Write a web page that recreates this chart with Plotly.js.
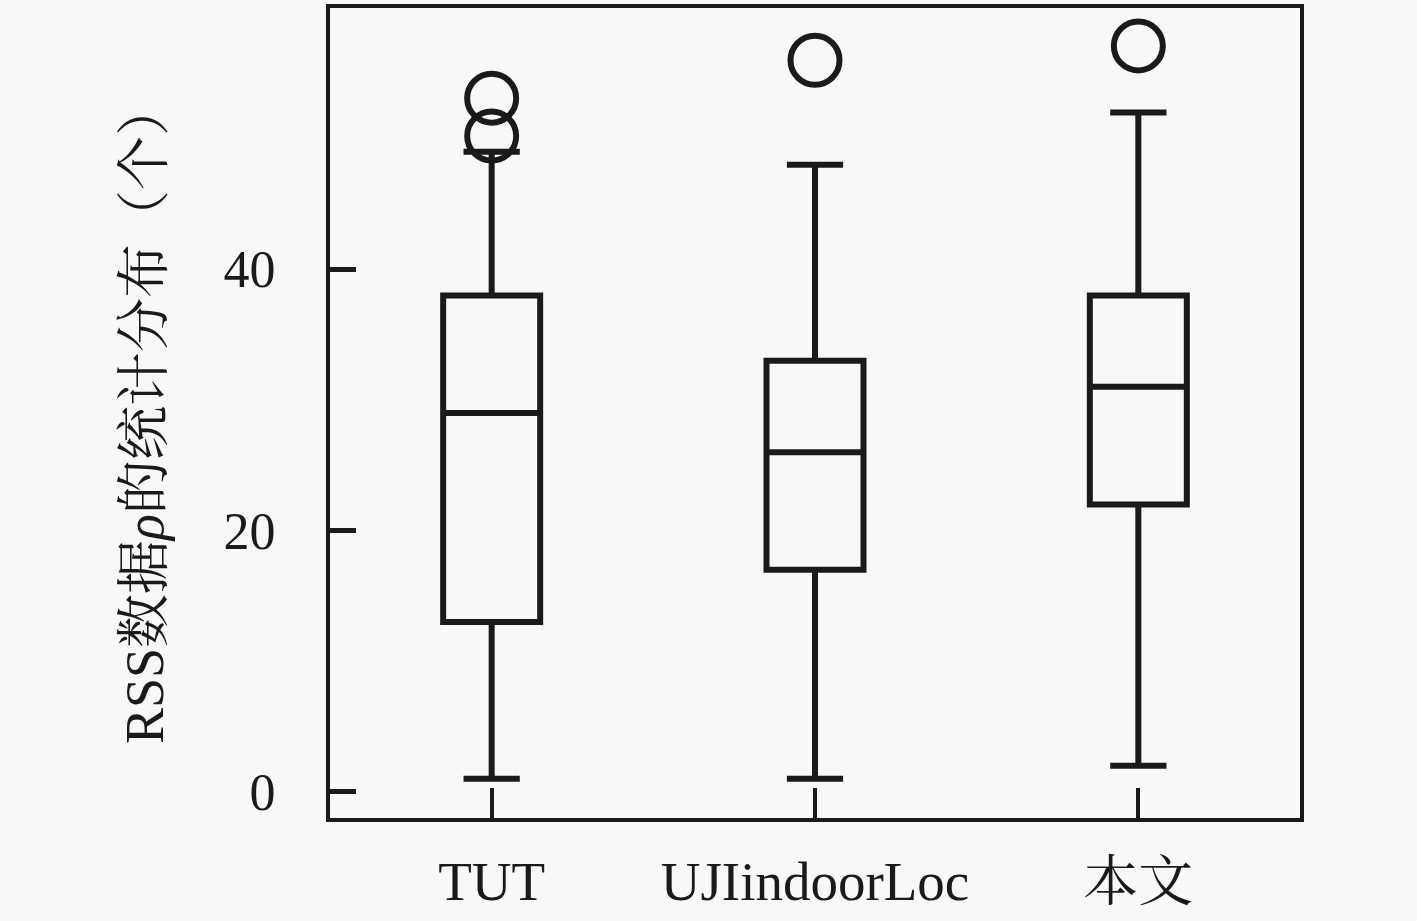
<!DOCTYPE html>
<html>
<head>
<meta charset="utf-8">
<script src="https://cdn.plot.ly/plotly-3.0.1.min.js"></script>
<style>html,body{margin:0;padding:0;background:#f8f8f8;}#chart{width:1417px;height:921px;}</style>
</head>
<body>
<div id="chart"></div>
<script>
const categories = ["TUT", "UJIindoorLoc", "本文"];
const lowerFence = [1, 1, 2];
const q1 = [13, 17, 22];
const median = [29, 26, 31];
const q3 = [38, 33, 38];
const upperFence = [49, 48, 52];
const outlierX = ["TUT", "TUT", "UJIindoorLoc", "本文"];
const outlierY = [53.1, 50.2, 56, 57.1];
const yTickVals = [0, 20, 40];

const serif = "Liberation Serif, 'Noto Serif CJK SC', 'Noto Sans CJK SC', serif";

const traces = [
  {
    type: "box",
    x: categories,
    q1: q1,
    median: median,
    q3: q3,
    lowerfence: lowerFence,
    upperfence: upperFence,
    boxpoints: false,
    width: 0.3,
    whiskerwidth: 0.58,
    fillcolor: "rgba(0,0,0,0)",
    line: {color: "#1a1a1a", width: 6},
    hoverinfo: "y"
  },
  {
    type: "scatter",
    mode: "markers",
    x: outlierX,
    y: outlierY,
    marker: {symbol: "circle-open", size: 49, color: "#1a1a1a", line: {width: 6, color: "#1a1a1a"}},
    hoverinfo: "y"
  }
];

const layout = {
  width: 1417,
  height: 921,
  margin: {l: 330, r: 117, t: 8, b: 103},
  paper_bgcolor: "#f8f8f8",
  plot_bgcolor: "#f8f8f8",
  showlegend: false,
  xaxis: {
    type: "category",
    range: [-0.5, 2.5],
    showline: true,
    mirror: true,
    linecolor: "#1a1a1a",
    linewidth: 4,
    ticks: "inside",
    ticklen: 30,
    tickwidth: 4,
    tickcolor: "#1a1a1a",
    showgrid: false,
    zeroline: false,
    ticklabelstandoff: 12,
    tickfont: {family: serif, size: 55, color: "#1a1a1a"}
  },
  yaxis: {
    range: [-2, 60],
    tickvals: yTickVals,
    ticktext: yTickVals.map(String),
    showline: true,
    mirror: true,
    linecolor: "#1a1a1a",
    linewidth: 4,
    ticks: "inside",
    ticklen: 26,
    tickwidth: 5,
    tickcolor: "#1a1a1a",
    showgrid: false,
    zeroline: false,
    ticklabelstandoff: 40,
    tickfont: {family: serif, size: 52, color: "#1a1a1a"},
    title: {
      text: "RSS数据<i>ρ</i>的统计分布（个）",
      font: {family: serif, size: 54, color: "#1a1a1a"},
      standoff: 44
    }
  }
};

Plotly.newPlot("chart", traces, layout, {displayModeBar: false, staticPlot: true});
</script>
</body>
</html>
